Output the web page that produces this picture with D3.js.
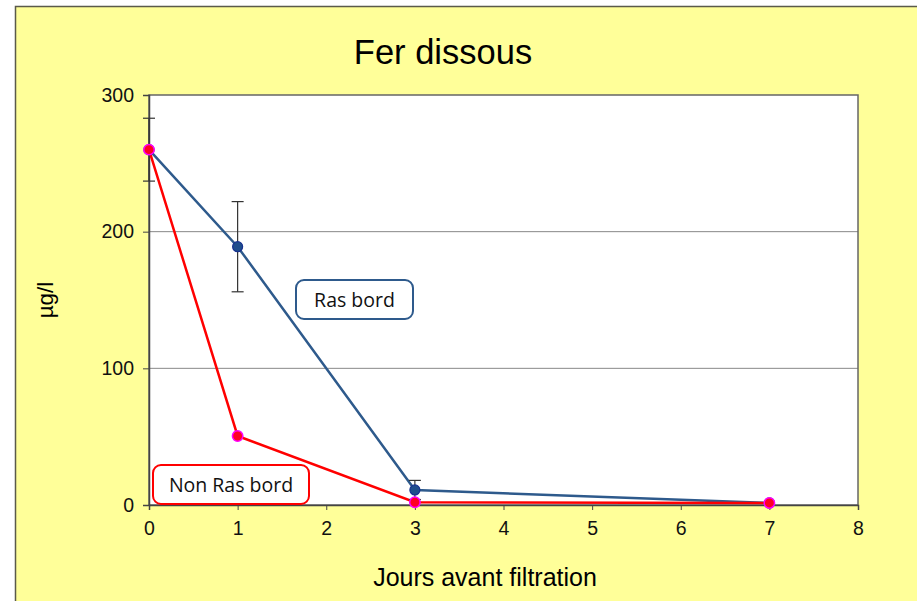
<!DOCTYPE html>
<html><head><meta charset="utf-8">
<script src="https://cdn.jsdelivr.net/npm/d3@7"></script>
<style>html,body{margin:0;padding:0;background:#fff;}svg{display:block;}</style>
</head><body>
<svg id="c" width="917" height="601"></svg>
<script>
const days = [0, 1, 3, 7];
const rasBord = [260, 189, 11, 1.5];
const rasBordErr = [23, 33, 7, 0];
const nonRasBord = [260, 50.5, 2, 1.5];
const xTicks = [0, 1, 2, 3, 4, 5, 6, 7, 8];
const yTicks = [0, 100, 200, 300];
const title = "Fer dissous";
const xTitle = "Jours avant filtration";
const yTitle = "µg/l";
const labelRas = "Ras bord";
const labelNon = "Non Ras bord";

const svg = d3.select("#c");
const W = 917, H = 601;
const m = {l:149, t:95, r:858, b:505};

svg.append("rect").attr("x",15.5).attr("y",6.5).attr("width",W).attr("height",H)
  .attr("fill","#FFFF99").attr("stroke","#5a5a4a").attr("stroke-width",1.5);

const x = d3.scaleLinear().domain([0,8]).range([m.l,m.r]);
const y = d3.scaleLinear().domain([0,300]).range([m.b,m.t]);

svg.append("rect").attr("x",m.l).attr("y",m.t).attr("width",m.r-m.l).attr("height",m.b-m.t)
  .attr("fill","#fff");

// grid
svg.append("g").selectAll("line").data([100,200]).join("line")
  .attr("x1",m.l).attr("x2",m.r).attr("y1",d=>y(d)).attr("y2",d=>y(d))
  .attr("stroke","#888").attr("stroke-width",1);

// plot border
svg.append("rect").attr("x",m.l).attr("y",m.t).attr("width",m.r-m.l).attr("height",m.b-m.t)
  .attr("fill","none").attr("stroke","#666").attr("stroke-width",1.5);

// axes
const xAxis = svg.append("g").attr("transform",`translate(0,${m.b})`)
  .call(d3.axisBottom(x).tickValues(xTicks).tickSize(5).tickPadding(11).tickFormat(d3.format("d")));
const yAxis = svg.append("g").attr("transform",`translate(${m.l},0)`)
  .call(d3.axisLeft(y).tickValues(yTicks).tickSize(6).tickPadding(9).tickFormat(d3.format("d")));
[xAxis,yAxis].forEach(a=>{
  a.select(".domain").attr("stroke","#444").attr("stroke-width",1.5);
  a.selectAll(".tick line").attr("stroke","#444");
  a.selectAll("text").attr("font-family","Liberation Sans, Arial, sans-serif")
    .attr("font-size",19.5).attr("fill","#111");
});

const line = d3.line().x((d,i)=>x(days[i])).y(d=>y(d));

// lines
svg.append("path").datum(rasBord).attr("d",line).attr("fill","none")
  .attr("stroke","#2E5A8C").attr("stroke-width",2.5);
svg.append("path").datum(nonRasBord).attr("d",line).attr("fill","none")
  .attr("stroke","#FF0000").attr("stroke-width",2.5);

// error bars
const eb = svg.append("g").attr("stroke","#333").attr("stroke-width",1.2);
rasBord.forEach((v,i)=>{
  const e = rasBordErr[i]; if(!e) return;
  const cx = x(days[i]);
  eb.append("line").attr("x1",cx).attr("x2",cx).attr("y1",y(v+e)).attr("y2",y(v-e));
  eb.append("line").attr("x1",cx-6).attr("x2",cx+6).attr("y1",y(v+e)).attr("y2",y(v+e));
  eb.append("line").attr("x1",cx-6).attr("x2",cx+6).attr("y1",y(v-e)).attr("y2",y(v-e));
});

// markers
svg.append("g").selectAll("circle").data(rasBord).join("circle")
  .attr("cx",(d,i)=>x(days[i])).attr("cy",d=>y(d)).attr("r",5)
  .attr("fill","#1F4E8C").attr("stroke","#16318F").attr("stroke-width",1.2);
svg.append("g").selectAll("circle").data(nonRasBord).join("circle")
  .attr("cx",(d,i)=>x(days[i])).attr("cy",d=>y(d)).attr("r",5.2)
  .attr("fill","#FF0022").attr("stroke","#FF00FF").attr("stroke-width",1.5);

// label boxes
function box(x0,y0,w,h,stroke,text){
  svg.append("rect").attr("x",x0).attr("y",y0).attr("width",w).attr("height",h)
    .attr("rx",8).attr("fill","#fff").attr("stroke",stroke).attr("stroke-width",2);
  svg.append("text").attr("x",x0+w/2).attr("y",y0+h/2+7).attr("text-anchor","middle")
    .attr("font-family","Open Sans, Carlito, sans-serif").attr("font-size",19.5).attr("fill","#111")
    .text(text);
}
box(296,280,117,39,"#2E5A8C",labelRas);
box(153,465,156,39,"#FF0000",labelNon);

// titles
svg.append("text").attr("x",443).attr("y",64).attr("text-anchor","middle")
  .attr("font-family","Liberation Sans, Arial, sans-serif").attr("font-size",34.5).attr("fill","#000")
  .text(title);
svg.append("text").attr("x",485).attr("y",586).attr("text-anchor","middle")
  .attr("font-family","Liberation Sans, Arial, sans-serif").attr("font-size",25).attr("fill","#000")
  .text(xTitle);
svg.append("text").attr("transform","translate(53,300) rotate(-90)").attr("text-anchor","middle")
  .attr("font-family","Liberation Sans, Arial, sans-serif").attr("font-size",22.5).attr("fill","#000")
  .text(yTitle);
</script>
</body></html>
